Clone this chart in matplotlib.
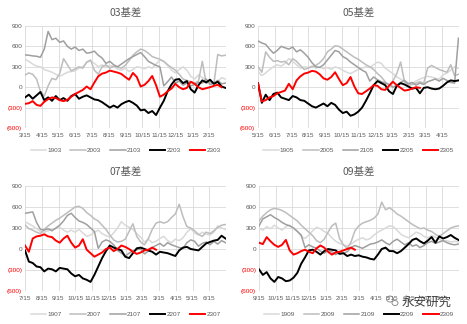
import numpy as np
import matplotlib.pyplot as plt
from matplotlib.patches import Ellipse

plt.rcParams['font.family'] = ['Liberation Sans', 'Noto Sans CJK SC']

# month labels for each contract chart
months_03 = ['3/15', '4/15', '5/15', '6/15', '7/15', '8/15', '9/15', '10/15', '11/15', '12/15', '1/15', '2/15']
months_05 = ['5/15', '6/15', '7/15', '8/15', '9/15', '10/15', '11/15', '12/15', '1/15', '2/15', '3/15', '4/15']
months_07 = ['7/15', '8/15', '9/15', '10/15', '11/15', '12/15', '1/15', '2/15', '3/15', '4/15', '5/15', '6/15']
months_09 = ['9/15', '10/15', '11/15', '12/15', '1/15', '2/15', '3/15', '4/15', '5/15', '6/15', '7/15', '8/15']

# weekly basis values, first week = first month label
s1903 = [410, 380, 340, 310, 300, 260, 240, 220, 190, 160, 190, 220, 230, 240, 280, 300, 360, 390, 350, 300,
         330, 290, 320, 300, 270, 250, 280, 230, 260, 300, 290, 270, 300, 280, 340, 400, 380, 320, 250, 210,
         260, 300, 250, 160, 120, 180, 140, 110, 70, 40, 80, 140, 120]
s2003 = [180, 210, 190, 120, -60, -130, 20, 130, 110, 200, 420, 330, 240, 270, 300, 280, 370, 400, 250, 190,
         300, 330, 280, 310, 300, 280, 320, 390, 470, 520, 560, 540, 500, 450, 430, 410, 380, 330, 290, 250,
         190, 120, 100, 80, 60, 90, 380, 60, 80, 50, 480, 460, 470]
s2103 = [475, 470, 460, 455, 440, 560, 820, 700, 720, 660, 680, 600, 560, 590, 540, 560, 500, 510, 530, 470,
         430, 350, 380, 330, 300, 340, 380, 420, 450, 480, 510, 450, 380, 350, 320, 300, 20, 80, 150, 60,
         90, 30, 60, 20, 40, 70, 60, 120, 40, 60, 100, 50, 60]
s2203 = [-150, -110, -170, -120, -70, -190, -150, -200, -130, -190, -160, -200, -130, -100, -170, -140, -120,
         -150, -180, -190, -220, -260, -300, -270, -300, -250, -220, -200, -230, -270, -340, -330, -380, -350,
         -410, -300, -200, -60, 40, 110, 120, 60, 90, -30, -80, 30, 100, 70, 110, 50, 80, 10, -10]
s2303 = [-245, -235, -205, -260, -275, -215, -175, -150, -160, -190, -205, -185, -140, -100, -70, -40, 10, -30,
         70, 160, 200, 215, 245, 230, 215, 195, 150, 110, 210, 150, 10, 35, 90, 165, 30, -140, -110, -60, -20,
         50, 0, -30, -10, 80, 50, 0, -30, -15, 0, 20, 35, 0]

s1905 = [230, 170, 210, 260, 300, 330, 310, 350, 420, 380, 330, 280, 300, 290, 310, 280, 300, 270, 290, 260,
         300, 280, 250, 220, 200, 230, 260, 280, 300, 290, 330, 370, 350, 280, 240, 200, 150, 120, 80, 60,
         50, 90, 120, 140, 160, 150, 130, 120, 180, 210, 250, 300, 280]
s2005 = [300, 220, 520, 440, 380, 390, 370, 380, 330, 420, 380, 320, 260, 280, 300, 320, 360, 420, 520, 560,
         610, 600, 560, 520, 480, 440, 410, 370, 330, 300, 260, 200, 150, 80, 30, 90, 200, 370, 80, 30,
         40, 60, 80, 60, 280, 320, 290, 260, 240, 220, 330, 170, 190]
s2105 = [680, 650, 630, 560, 500, 540, 600, 580, 560, 590, 520, 550, 500, 440, 360, 300, 290, 330, 400, 470,
         540, 520, 450, 420, 370, 330, 290, 250, 220, 90, 150, 110, 80, 60, 40, 0, 30, 70, 100, 50,
         70, 30, 60, 40, 80, 100, 120, 90, 130, 100, 70, 60, 720]
s2205 = [60, -230, -110, -190, -100, -80, -150, -170, -190, -130, -150, -190, -200, -240, -280, -300, -270,
         -240, -280, -230, -260, -330, -380, -360, -420, -400, -360, -300, -200, -90, 30, 90, 60, 30, -60,
         -100, 20, 60, 40, 10, -20, -10, -90, -10, 0, -20, -30, -20, 20, 70, 100, 90, 100]
s2305 = [60, -210, -190, -150, -130, -90, -70, -50, 50, -30, 100, 160, 200, 215, 240, 230, 190, 130, 110, 150,
         220, 120, 30, 60, 150, 10, -90, -100, -60, -20, 30, 20, -30, -40, 20, 80, 30, -10, -50, -40, -20, 0, -10]

s1907 = [390, 360, 330, 290, 250, 240, 260, 280, 290, 310, 270, 240, 270, 240, 280, 230, 180, 200, 240, 270,
         220, 190, 170, 230, 300, 390, 340, 310, 280, 220, 170, 100, 140, 90, 110, 150, 180, 120, 90, 140,
         120, 160, 240, 290, 230, 200, 240, 210, 200, 240, 330, 300, 280]
s2007 = [345, 290, 270, 240, 220, 280, 330, 370, 410, 440, 480, 520, 560, 600, 610, 580, 520, 480, 430, 400,
         340, 280, 200, 130, 100, 110, 140, 250, 360, 180, 100, 60, 150, 280, 370, 390, 370, 390, 450, 500,
         640, 460, 320, 300, 260, 210, 180, 240, 220, 260, 310, 340, 350]
s2107 = [510, 520, 530, 380, 280, 270, 290, 260, 300, 340, 400, 480, 510, 450, 400, 380, 350, 300, 250, 10,
         100, 130, 110, 60, -20, -60, -100, -60, -30, -10, 0, -70, -30, 20, 50, 80, 40, 90, 60, 40,
         20, 10, 90, 130, 110, 40, 80, 100, 60, 110, 70, 120, 90]
s2207 = [-20, -180, -200, -250, -260, -320, -280, -290, -320, -270, -280, -290, -350, -390, -370, -420, -440,
         -470, -370, -250, -130, -30, 50, 20, 0, -20, -110, -130, -60, 10, 20, 0, -20, -40, -80, -40, -50,
         -60, -80, -100, -20, 20, 30, 0, -10, -20, 30, 80, 100, 120, 130, 190, 150]
s2307 = [50, -40, 150, 180, 190, 210, 180, 170, 120, 90, 150, 190, 90, 20, 50, 140, -10, -60, -110, -80,
         -50, 0, 20, -30, 0, 50, 30, 0, -40, -70, -50, -20, -10, 20, -10]

s1909 = [300, 270, 320, 290, 340, 300, 270, 320, 340, 300, 260, 180, 150, 200, 260, 310, 290, 250, 220, 160,
         110, 80, 60, 40, 70, 110, 140, 160, 130, 150, 200, 240, 270, 300, 330, 320, 270, 210, 180, 160,
         200, 240, 220, 180, 160, 190, 170, 140, 110, 120, 100, 110, 100]
s2009 = [400, 470, 520, 560, 580, 570, 550, 520, 480, 440, 400, 340, 290, 240, 190, 120, 90, 140, 240, 330,
         370, 150, 60, 10, 100, 260, 330, 370, 390, 410, 440, 500, 670, 560, 590, 550, 500, 470, 430, 390,
         350, 320, 290, 300, 270, 250, 210, 180, 220, 260, 300, 320, 330]
s2109 = [330, 430, 460, 490, 450, 420, 380, 350, 330, 300, 250, 200, 20, 60, 30, 10, -30, -60, -20, -40,
         -80, -50, -60, -40, 20, 50, 30, 10, 40, 70, 80, 100, 130, 90, 60, 110, 140, 100, 60, 90,
         40, 60, 20, 50, 90, 110, 80, 100, 120, 90, 70, 60, 70]
s2209 = [-290, -370, -330, -420, -470, -400, -420, -460, -450, -410, -340, -210, -120, -20, -10, -40, -80,
         -30, 0, -10, -20, -70, -60, -100, -80, -100, -90, -110, -120, -140, -150, -80, 0, 20, -30, -30, -60,
         -30, 20, 70, 130, 150, 110, 80, 120, 170, 90, 180, 150, 170, 200, 160, 130]
s2309 = [90, 70, 170, 110, 60, 30, 60, 130, -20, -80, -60, -30, -10, -40, -60, 10, 50, 20, -40, -80,
         -50, -40, -20, 0, 20, -10]

charts = [
    ('03基差', months_03, [('1903', s1903), ('2003', s2003), ('2103', s2103), ('2203', s2203), ('2303', s2303)]),
    ('05基差', months_05, [('1905', s1905), ('2005', s2005), ('2105', s2105), ('2205', s2205), ('2305', s2305)]),
    ('07基差', months_07, [('1907', s1907), ('2007', s2007), ('2107', s2107), ('2207', s2207), ('2307', s2307)]),
    ('09基差', months_09, [('1909', s1909), ('2009', s2009), ('2109', s2109), ('2209', s2209), ('2309', s2309)]),
]

colors = ['#d9d9d9', '#bdbdbd', '#9f9f9f', '#000000', '#ff0000']
widths = [1.1, 1.1, 1.1, 1.4, 1.4]
yticks = [-600, -300, 0, 300, 600, 900]
ylabels = ['(600)', '(300)', '0', '300', '600', '900']
weeks_per_month = 365 / 7 / 12

W, H = 467, 324
fig = plt.figure(figsize=(W / 100, H / 100), dpi=100)

# plot boxes in pixels: left, top, right, bottom
boxes = [(25, 26, 226, 128), (258, 26, 459, 128), (25, 186, 226, 291), (259, 186, 459, 291)]
title_y = [13, 13, 172, 172]
legend_y = [150, 150, 314, 314]

for (title, months, series), (x0, y0, x1, y1), ty, ly in zip(charts, boxes, title_y, legend_y):
    ax = fig.add_axes([x0 / W, 1 - y1 / H, (x1 - x0) / W, (y1 - y0) / H])
    for (name, vals), c, lw in zip(series, colors, widths):
        ax.plot(np.arange(len(vals)) / weeks_per_month, vals, color=c, lw=lw, label=name)
    ax.set_xlim(0, 12)
    ax.set_ylim(-600, 900)
    ax.set_xticks(range(13))
    ax.set_xticklabels(months + [''])
    ax.set_yticks(yticks)
    ax.set_yticklabels(ylabels)
    for lab, v in zip(ax.get_yticklabels(), yticks):
        lab.set_color('#ff0000' if v < 0 else '#595959')
    ax.tick_params(axis='both', length=0, labelsize=4.6, colors='#595959')
    ax.tick_params(axis='x', pad=3.5)
    ax.tick_params(axis='y', pad=2)
    for lab, v in zip(ax.get_yticklabels(), yticks):
        lab.set_color('#ff0000' if v < 0 else '#595959')
    ax.grid(True, color='#d9d9d9', lw=0.6)
    ax.set_axisbelow(True)
    for s in ax.spines.values():
        s.set_visible(False)

    cx = (x0 + x1) / 2 / W
    fig.text(cx, 1 - ty / H, title, ha='center', va='center', fontsize=7.5,
             color='#595959', family=['Noto Sans CJK SC'])
    ax.legend(loc='center', bbox_to_anchor=(cx, 1 - ly / H), bbox_transform=fig.transFigure,
              ncol=5, frameon=False, fontsize=4.6, handlelength=2.4, handletextpad=0.2,
              columnspacing=1.4, labelcolor='#595959')

# account watermark
fig.add_artist(Ellipse((390 / W, 1 - 299 / H), 7 / W, 6 / H, fill=False, ec='#808080', lw=0.6))
fig.add_artist(Ellipse((395 / W, 1 - 303 / H), 6 / W, 5 / H, fill=False, ec='#808080', lw=0.6))
fig.text(427 / W, 1 - 302 / H, '永安研究', ha='center', va='center', fontsize=9,
         color='#404040', family=['Noto Sans CJK SC'])

fig.savefig('out.png', dpi=100)
